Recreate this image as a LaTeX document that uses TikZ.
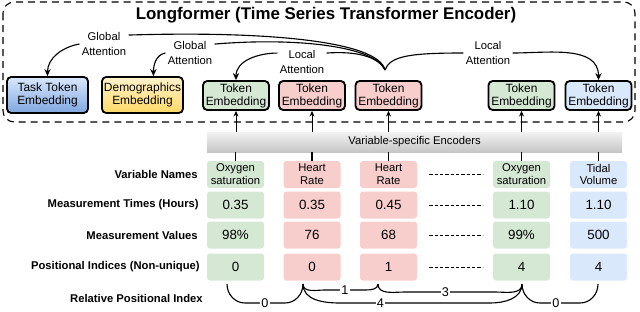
\documentclass[tikz,border=0pt]{standalone}
\usepackage{fontspec}
\setmainfont{Liberation Sans}
\usetikzlibrary{arrows.meta}
\definecolor{tsGreen}{HTML}{D5E8D4}
\definecolor{tsRed}{HTML}{F8CECC}
\definecolor{tsBlue}{HTML}{DAE8FC}
\definecolor{tsBlueDark}{HTML}{7EA6E0}
\definecolor{tsYellow}{HTML}{FFF2CC}
\definecolor{tsYellowDark}{HTML}{FFD966}

\begin{document}
\begin{tikzpicture}[x=0.25mm, y=-0.25mm,
      every node/.style={align=center, inner sep=0pt},
      big/.style 2 args={rounded corners=3pt, draw=black, line width=1.3pt,
                top color=#1, bottom color=#2, minimum width=20.25mm,
                minimum height=9mm, font=\fontsize{8.5}{9.2}\selectfont},
      tok/.style={rounded corners=3pt, draw=black, line width=1.3pt, fill=#1,
                minimum width=16.5mm, minimum height=7.25mm,
                font=\fontsize{8.5}{9.2}\selectfont},
      cell/.style={rounded corners=2pt, fill=#1, minimum width=14.25mm,
                minimum height=6.75mm},
      vname/.style={font=\fontsize{8}{9.2}\selectfont},
      vnum/.style={font=\fontsize{9.5}{11}\selectfont},
      rowlab/.style={anchor=east, font=\fontsize{8}{10}\selectfont\bfseries},
      att/.style={font=\fontsize{8}{10}\selectfont, inner sep=1.5pt},
      link/.style={line width=0.8pt},
      arr/.style={-{Stealth[length=5pt,width=4.5pt]}, line width=0.8pt},
      up/.style={-{Stealth[length=4pt,width=3.5pt]}, line width=0.6pt},
      gap/.style={dash pattern=on 2.3pt off 1.5pt, line width=0.5pt},
      brlab/.style={font=\fontsize{9}{10}\selectfont, fill=white, inner sep=1pt}]
    \useasboundingbox (0,0) rectangle (640,311);

    % encoder frame
    \draw[dash pattern=on 5pt off 3.5pt, line width=0.8pt, rounded corners=8pt]
      (3,2) rectangle (635,122);
    \node[font=\fontsize{12}{14}\selectfont\bfseries] (title) at (326,15)
      {Longformer (Time Series Transformer Encoder)};

    % embeddings
    \node[big={tsBlue}{tsBlueDark}]     (task) at (47.5,95)  {Task Token\\Embedding};
    \node[big={tsYellow}{tsYellowDark}] (demo) at (142.5,95) {Demographics\\Embedding};
    \node[tok=tsGreen] (tok1) at (236,95.5)   {Token\\Embedding};
    \node[tok=tsRed]   (tok2) at (312,95.5)   {Token\\Embedding};
    \node[tok=tsRed]   (tok3) at (388.5,95.5) {Token\\Embedding};
    \node[tok=tsGreen] (tok4) at (521.5,95.5) {Token\\Embedding};
    \node[tok=tsBlue]  (tok5) at (598.5,95.5) {Token\\Embedding};

    % attention
    \coordinate (hub) at (385,70);
    \node[att] (gA1) at (104,44) {Global\\Attention};
    \node[att] (gA2) at (190,53) {Global\\Attention};
    \node[att] (lA1) at (302,62) {Local\\Attention};
    \node[att] (lA2) at (488,53) {Local\\Attention};
    \draw[link] (hub) .. controls (378,40) and (260,31) .. (gA1.20);
    \draw[link] (hub) .. controls (376,47) and (300,37) .. (gA2.20);
    \draw[link] (hub) .. controls (378,56) and (355,51) .. (lA1.20);
    \draw[link] (hub) .. controls (390,56) and (410,53) .. (lA2.west);
    \draw[arr] (gA1.west) to[out=190,in=90] (task.north);
    \draw[arr] (gA2.west) to[out=190,in=90] (demo.60);
    \draw[arr] (lA1.160) to[out=180,in=90] (tok1.north);
    \draw[arr] (lA2.east) to[out=0,in=90] (tok5.north);

    % encoders
    \node[top color=gray!10, bottom color=gray!45, minimum width=103.75mm,
          minimum height=5mm, font=\fontsize{8}{10}\selectfont]
      (enc) at (414.5,142) {Variable-specific Encoders};
    \draw[up] (tok1 |- enc.north) -- (tok1.south);
    \draw[up] (tok2 |- enc.north) -- (tok2.south);
    \draw[up] (tok3 |- enc.north) -- (tok3.south);
    \draw[up] (tok4 |- enc.north) -- (tok4.south);
    \draw[up] (tok5 |- enc.north) -- (tok5.south);

    % rows
    \node[rowlab] (lNames)  at (198,174.5) {Variable Names};
    \node[rowlab] (lTimes)  at (199,205)   {Measurement Times (Hours)};
    \node[rowlab] (lValues) at (198,235)   {Measurement Values};
    \node[rowlab] (lPos)    at (200,267)   {Positional Indices (Non-unique)};
    \node[rowlab] (lRel)    at (203,298)   {Relative Positional Index};

    \node[cell=tsGreen, vname] (n1) at (235.5,174.5) {Oxygen\\saturation};
    \node[cell=tsRed,   vname] (n2) at (312,174.5)   {Heart\\Rate};
    \node[cell=tsRed,   vname] (n3) at (388.5,174.5) {Heart\\Rate};
    \node[cell=tsGreen, vname] (n4) at (521.5,174.5) {Oxygen\\saturation};
    \node[cell=tsBlue,  vname] (n5) at (598.5,174.5) {Tidal\\Volume};

    \node[cell=tsGreen, vnum] (t1) at (235.5,205) {0.35};
    \node[cell=tsRed,   vnum] (t2) at (312,205)   {0.35};
    \node[cell=tsRed,   vnum] (t3) at (388.5,205) {0.45};
    \node[cell=tsGreen, vnum] (t4) at (521.5,205) {1.10};
    \node[cell=tsBlue,  vnum] (t5) at (598.5,205) {1.10};

    \node[cell=tsGreen, vnum] (m1) at (235.5,235) {98\%};
    \node[cell=tsRed,   vnum] (m2) at (312,235)   {76};
    \node[cell=tsRed,   vnum] (m3) at (388.5,235) {68};
    \node[cell=tsGreen, vnum] (m4) at (521.5,235) {99\%};
    \node[cell=tsBlue,  vnum] (m5) at (598.5,235) {500};

    \node[cell=tsGreen, vnum] (p1) at (235.5,267) {0};
    \node[cell=tsRed,   vnum] (p2) at (312,267)   {0};
    \node[cell=tsRed,   vnum] (p3) at (388.5,267) {1};
    \node[cell=tsGreen, vnum] (p4) at (521.5,267) {4};
    \node[cell=tsBlue,  vnum] (p5) at (598.5,267) {4};

    \draw[link] (n1.north) -- (n1.north |- enc.south);
    \draw[link] (n2.north) -- (n2.north |- enc.south);
    \draw[link] (n3.north) -- (n3.north |- enc.south);
    \draw[link] (n4.north) -- (n4.north |- enc.south);
    \draw[link] (n5.north) -- (n5.north |- enc.south);

    \draw[gap] ([xshift=3mm]n3.east) -- ([xshift=-2.5mm]n4.west);
    \draw[gap] ([xshift=3mm]t3.east) -- ([xshift=-2.5mm]t4.west);
    \draw[gap] ([xshift=3mm]m3.east) -- ([xshift=-2.5mm]m4.west);
    \draw[gap] ([xshift=3mm]p3.east) -- ([xshift=-2.5mm]p4.west);

    % relative positions
    \coordinate (b1) at (227,284);
    \coordinate (b2) at (303,284);
    \coordinate (b3) at (378,284);
    \coordinate (b4) at (522,284);
    \coordinate (b5) at (598,284);
    \draw[link] (b1) to[out=-90,in=180] (245,303) -- node[brlab]{0} (285,303)
      to[out=0,in=-90] (b2);
    \draw[link] (b2) to[out=-90,in=180] (340,303) -- node[brlab,pos=0.27]{4} (490,303)
      to[out=0,in=-90] (b4);
    \draw[link] (b2) to[out=-90,in=180] (325,290) -- node[brlab]{1} (365,290)
      to[out=0,in=-90] (b3);
    \draw[link] (b3) to[out=-90,in=180] (405,292) -- node[brlab,pos=0.45]{3} (495,292)
      to[out=0,in=-90] (b4);
    \draw[link] (b4) to[out=-90,in=180] (540,303) -- node[brlab,pos=0.4]{0} (580,303)
      to[out=0,in=-90] (b5);
  \end{tikzpicture}
\end{document}
